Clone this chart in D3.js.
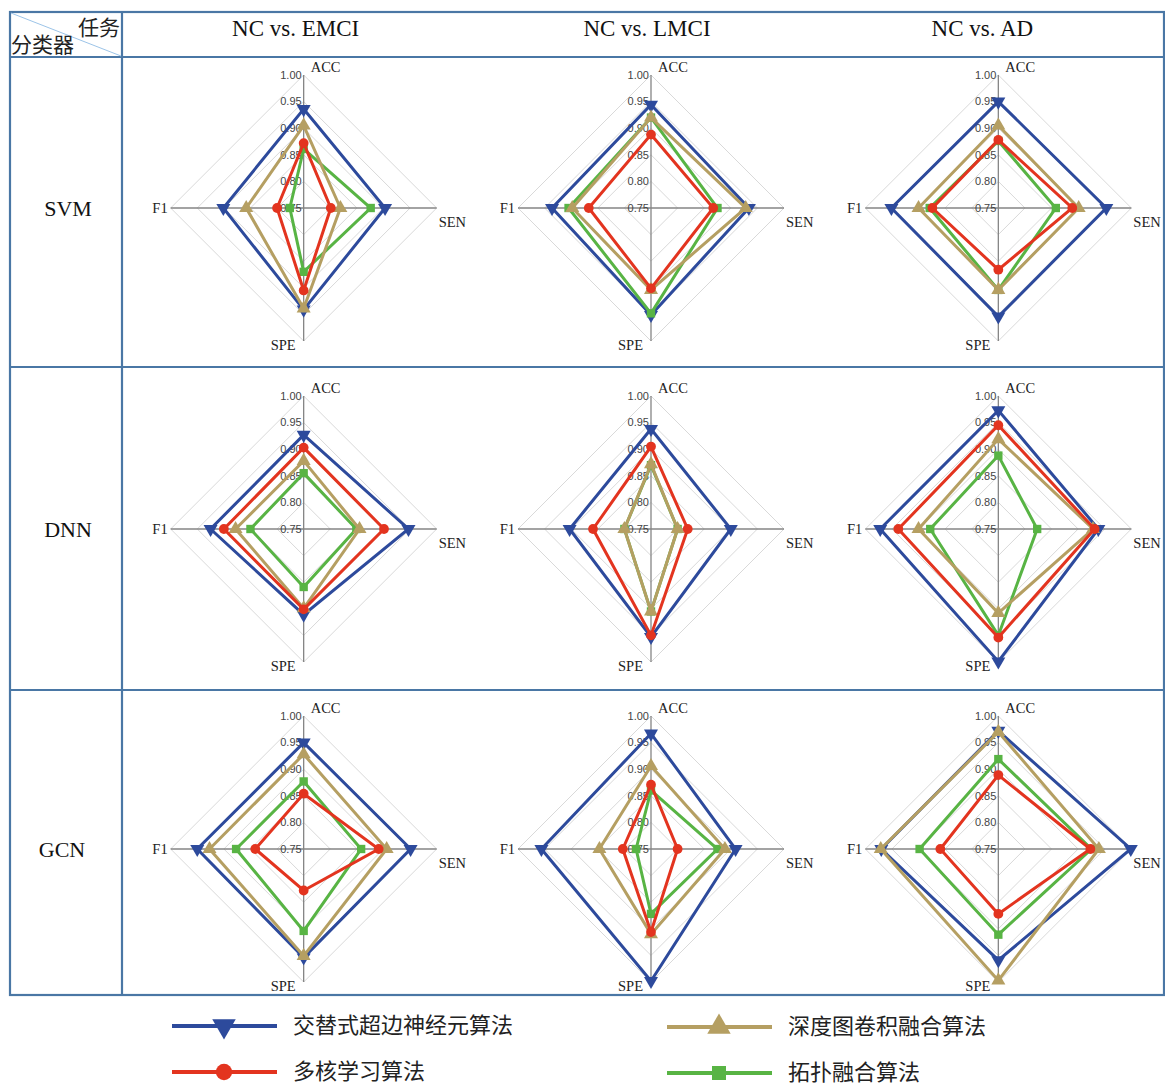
<!DOCTYPE html>
<html>
<head>
<meta charset="utf-8">
<script src="https://cdn.jsdelivr.net/npm/d3@7"></script>
<style>
  body { margin: 0; background: #fff; }
  .grid path { fill: none; stroke: #d9d9d9; stroke-width: 1; }
  .axis line { stroke: #858585; stroke-width: 1.3; }
  .tick text { font-family: "Liberation Sans", Arial, sans-serif; font-size: 11px; fill: #444; }
  .cat text { font-family: "Liberation Serif", "Times New Roman", serif; font-size: 14.5px; fill: #222; }
  .border { fill: none; stroke: #4a77a5; stroke-width: 2.2; }
</style>
</head>
<body>
<script>
var W = 1165, H = 1087;

// Data
var categories = ["ACC", "SEN", "SPE", "F1"];
var tasks = ["NC vs. EMCI", "NC vs. LMCI", "NC vs. AD"];
var classifiers = ["SVM", "DNN", "GCN"];
var methods = ["交替式超边神经元算法", "深度图卷积融合算法", "多核学习算法", "拓扑融合算法"];
var tickValues = [0.75, 0.80, 0.85, 0.90, 0.95, 1.00];

// each row: classifier, each entry: task -> [ACC, SEN, SPE, F1]
var hyperNeuron = [
	[[0.936, 0.903, 0.941, 0.901], [0.944, 0.934, 0.951, 0.936], [0.950, 0.953, 0.954, 0.951]],
	[[0.927, 0.947, 0.911, 0.925], [0.938, 0.900, 0.953, 0.903], [0.973, 0.938, 0.999, 0.972]],
	[[0.950, 0.951, 0.954, 0.950], [0.967, 0.909, 0.998, 0.956], [0.972, 0.999, 0.959, 0.970]]
];
var deepGcn = [
	[[0.905, 0.819, 0.939, 0.858], [0.920, 0.928, 0.904, 0.898], [0.905, 0.901, 0.904, 0.900]],
	[[0.878, 0.855, 0.899, 0.878], [0.872, 0.800, 0.905, 0.800], [0.919, 0.928, 0.908, 0.900]],
	[[0.928, 0.906, 0.951, 0.927], [0.906, 0.889, 0.910, 0.847], [0.970, 0.939, 0.997, 0.971]]
];
var multiKernel = [
	[[0.872, 0.801, 0.905, 0.800], [0.888, 0.867, 0.901, 0.867], [0.878, 0.889, 0.866, 0.874]],
	[[0.903, 0.901, 0.901, 0.900], [0.905, 0.819, 0.950, 0.859], [0.945, 0.931, 0.954, 0.938]],
	[[0.854, 0.891, 0.828, 0.841], [0.871, 0.800, 0.906, 0.803], [0.889, 0.923, 0.872, 0.859]]
];
var topoFusion = [
	[[0.861, 0.876, 0.870, 0.776], [0.920, 0.875, 0.948, 0.905], [0.876, 0.858, 0.904, 0.879]],
	[[0.855, 0.849, 0.859, 0.850], [0.870, 0.800, 0.905, 0.800], [0.888, 0.823, 0.950, 0.878]],
	[[0.877, 0.858, 0.904, 0.877], [0.860, 0.875, 0.872, 0.778], [0.919, 0.925, 0.911, 0.898]]
];

var series = [
	{ name: methods[0], values: hyperNeuron, color: "#2d4a9c", symbol: d3.symbolTriangle, rotate: 180, size: 85 },
	{ name: methods[3], values: topoFusion, color: "#58b444", symbol: d3.symbolSquare, rotate: 0, size: 70 },
	{ name: methods[1], values: deepGcn, color: "#b59f62", symbol: d3.symbolTriangle, rotate: 0, size: 85 },
	{ name: methods[2], values: multiKernel, color: "#e3341f", symbol: d3.symbolCircle, rotate: 0, size: 75 }
];

var svg = d3.select("body").append("svg")
	.attr("width", W)
	.attr("height", H);

// Table layout
var tableLeft = 10, tableRight = 1164, labelColRight = 122;
var tableTop = 12, headerBottom = 57, tableBottom = 995;
var rowBounds = [headerBottom, 367, 690, tableBottom];
var rowShift = [-4, 0.5, 6.5];   // radar centre offset inside its row
var headShift = [0, 4, -8];      // header text offset inside its column

var colX = d3.scaleBand().domain(tasks).range([labelColRight, tableRight]);
var rowCenter = function(i) { return (rowBounds[i] + rowBounds[i + 1]) / 2 + rowShift[i]; };

var R = 133;
var r = d3.scaleLinear().domain([0.75, 1.00]).range([0, R]);
var angle = function(i) { return i * Math.PI / 2; };

var radial = d3.lineRadial()
	.angle(function(d, i) { return angle(i); })
	.radius(function(d) { return r(d); })
	.curve(d3.curveLinearClosed);

// Table lines
var table = svg.append("g");
table.append("rect")
	.attr("class", "border")
	.attr("x", tableLeft).attr("y", tableTop)
	.attr("width", tableRight - tableLeft).attr("height", tableBottom - tableTop);
table.append("line")
	.attr("class", "border")
	.attr("x1", labelColRight).attr("y1", tableTop)
	.attr("x2", labelColRight).attr("y2", tableBottom);
rowBounds.slice(0, 3).forEach(function(y) {
	table.append("line")
		.attr("class", "border")
		.attr("x1", tableLeft).attr("y1", y)
		.attr("x2", tableRight).attr("y2", y);
});

// Header corner cell
table.append("line")
	.attr("x1", tableLeft + 1).attr("y1", tableTop + 1)
	.attr("x2", labelColRight - 1).attr("y2", headerBottom - 1)
	.attr("stroke", "#9cc4e8").attr("stroke-width", 1);
table.append("text")
	.attr("x", 120).attr("y", 35)
	.attr("text-anchor", "end")
	.style("font-family", "'Noto Sans CJK SC', sans-serif").style("font-size", "21px").style("fill", "#222")
	.text("任务");
table.append("text")
	.attr("x", 11).attr("y", 52)
	.style("font-family", "'Noto Sans CJK SC', sans-serif").style("font-size", "21px").style("fill", "#222")
	.text("分类器");

// Column headers
table.selectAll("text.task")
	.data(tasks)
	.enter()
	.append("text")
		.attr("class", "task")
		.attr("x", function(d, i) { return colX(d) + colX.bandwidth() / 2 + headShift[i]; })
		.attr("y", 36)
		.attr("text-anchor", "middle")
		.style("font-family", "'Liberation Serif', 'Times New Roman', serif")
		.style("font-size", "23px").style("fill", "#111")
		.text(function(d) { return d; });

// Row labels
table.selectAll("text.cls")
	.data(classifiers)
	.enter()
	.append("text")
		.attr("class", "cls")
		.attr("x", function(d, i) { return i == 2 ? 62 : 68; })
		.attr("y", function(d, i) { return rowCenter(i) + 8; })
		.attr("text-anchor", "middle")
		.style("font-family", "'Liberation Serif', 'Times New Roman', serif")
		.style("font-size", "22px").style("fill", "#111")
		.text(function(d) { return d; });

// Radar panels
classifiers.forEach(function(cls, ci) {
	tasks.forEach(function(task, ti) {
		var cx = colX(task) + colX.bandwidth() / 2 + 8;
		var cy = rowCenter(ci);
		var g = svg.append("g").attr("transform", "translate(" + cx + "," + cy + ")");
		drawRadar(g, ci, ti);
	});
});

function drawRadar(g, ci, ti) {
	// grid diamonds
	g.append("g").attr("class", "grid")
		.selectAll("path")
		.data(tickValues.slice(1))
		.enter()
		.append("path")
			.attr("d", function(t) { return radial(categories.map(function() { return t; })); });

	// axes
	g.append("g").attr("class", "axis")
		.selectAll("line")
		.data(categories)
		.enter()
		.append("line")
			.attr("x1", 0).attr("y1", 0)
			.attr("x2", function(d, i) { return R * Math.sin(angle(i)); })
			.attr("y2", function(d, i) { return -R * Math.cos(angle(i)); });

	// tick labels
	g.append("g").attr("class", "tick")
		.selectAll("text")
		.data(tickValues)
		.enter()
		.append("text")
			.attr("x", -2)
			.attr("y", function(t) { return -r(t); })
			.attr("dy", "0.35em")
			.attr("text-anchor", "end")
			.text(function(t) { return d3.format(".2f")(t); });

	// category labels
	var catPos = [
		{ x: 7, y: -R - 3, anchor: "start" },
		{ x: R + 2, y: 19, anchor: "start" },
		{ x: -8, y: R + 9, anchor: "end" },
		{ x: -R - 3, y: 5, anchor: "end" }
	];
	g.append("g").attr("class", "cat")
		.selectAll("text")
		.data(categories)
		.enter()
		.append("text")
			.attr("x", function(d, i) { return catPos[i].x; })
			.attr("y", function(d, i) { return catPos[i].y; })
			.attr("text-anchor", function(d, i) { return catPos[i].anchor; })
			.text(function(d) { return d; });

	// series
	series.forEach(function(s) {
		var vals = s.values[ci][ti];
		var sg = g.append("g");
		sg.append("path")
			.attr("d", radial(vals))
			.attr("fill", "none")
			.attr("stroke", s.color)
			.attr("stroke-width", 3)
			.attr("stroke-linejoin", "miter");
		sg.selectAll("path.mark")
			.data(vals)
			.enter()
			.append("path")
				.attr("class", "mark")
				.attr("d", d3.symbol().type(s.symbol).size(s.size))
				.attr("fill", s.color)
				.attr("transform", function(d, i) {
					var a = angle(i);
					return "translate(" + (r(d) * Math.sin(a)) + "," + (-r(d) * Math.cos(a)) + ") rotate(" + s.rotate + ")";
				});
	});
}

// Legend
var legendItems = [
	{ s: series[0], x: 172, y: 1026 },
	{ s: series[2], x: 667, y: 1027 },
	{ s: series[3], x: 172, y: 1072 },
	{ s: series[1], x: 667, y: 1073 }
];
var legend = svg.append("g");
legendItems.forEach(function(it) {
	var lg = legend.append("g").attr("transform", "translate(" + it.x + "," + it.y + ")");
	lg.append("line")
		.attr("x1", 0).attr("x2", 105)
		.attr("y1", 0).attr("y2", 0)
		.attr("stroke", it.s.color)
		.attr("stroke-width", 4);
	lg.append("path")
		.attr("d", d3.symbol().type(it.s.symbol).size(it.s.size * 2.8))
		.attr("fill", it.s.color)
		.attr("transform", "translate(52,0) rotate(" + it.s.rotate + ")");
	lg.append("text")
		.attr("x", 121)
		.attr("y", 7)
		.style("font-family", "'Noto Sans CJK SC', sans-serif")
		.style("font-size", "22px")
		.style("fill", "#222")
		.text(it.s.name);
});
</script>
</body>
</html>
